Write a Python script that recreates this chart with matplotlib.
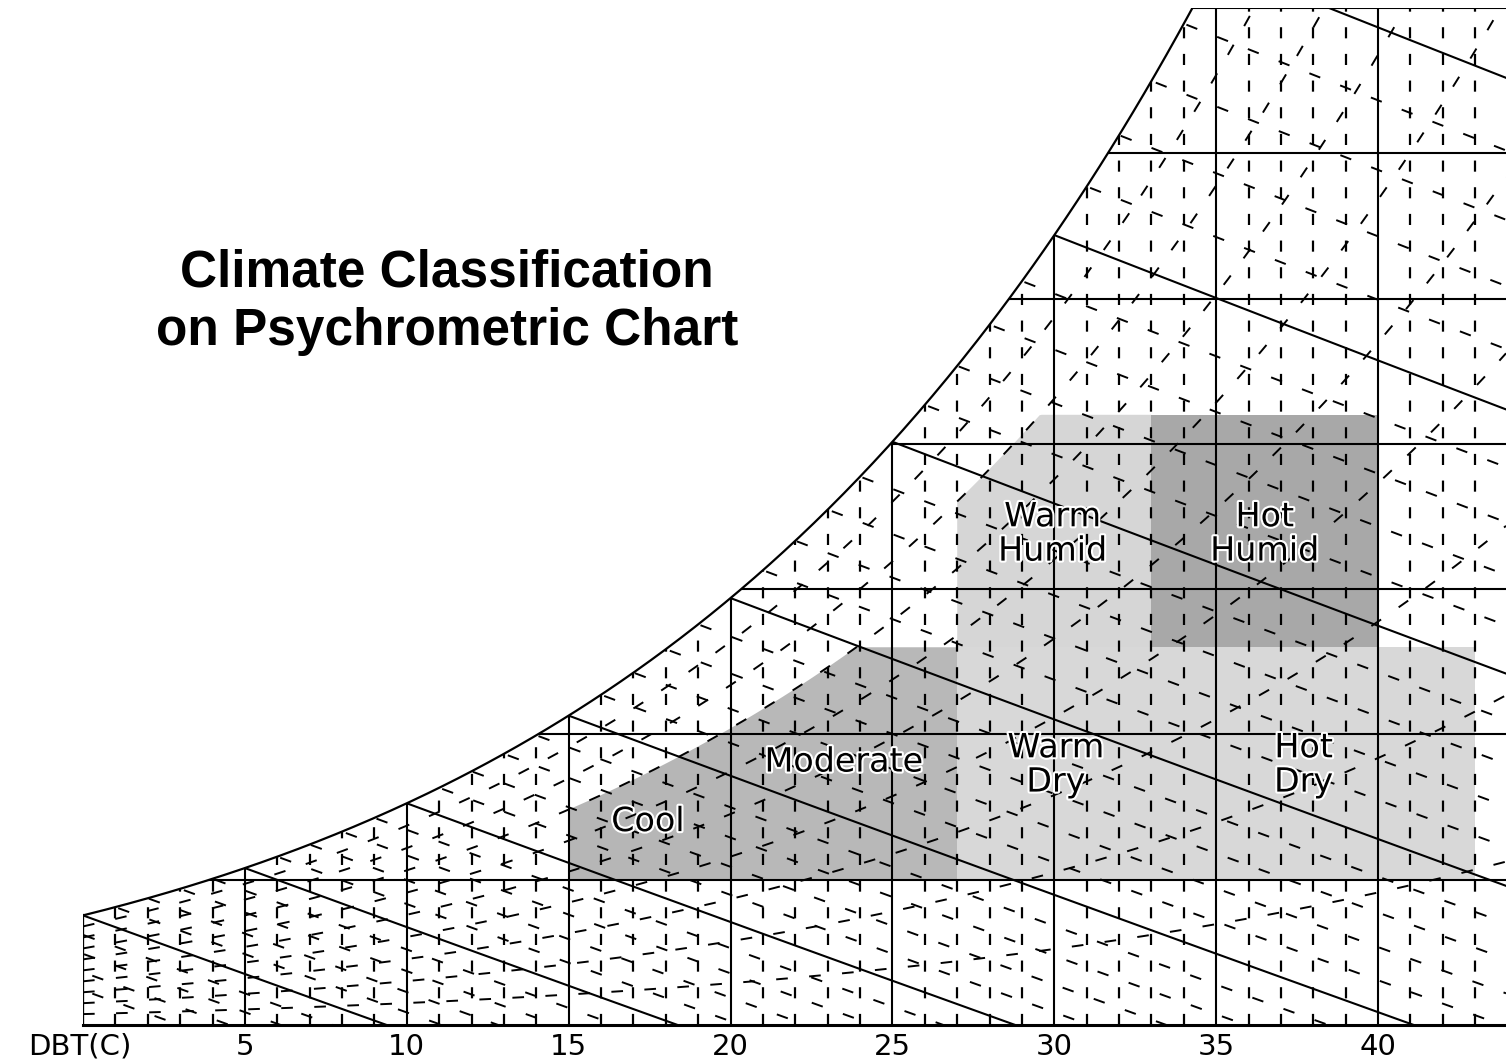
import numpy as np
import matplotlib
matplotlib.use("Agg")
import matplotlib.pyplot as plt
import matplotlib.patheffects as pe
from matplotlib.patches import Polygon

# chart frame (dry bulb in C, humidity ratio in g/kg)
t_max = 43.95
w_max = 35.0
pressure = 101.325

tick_temps = [5, 10, 15, 20, 25, 30, 35, 40]
tick_labels = ["5", "10", "15", "20", "25", "30", "35", "40"]
solid_temps = [0, 5, 10, 15, 20, 25, 30, 35, 40]
dashed_temps = [1, 2, 3, 4, 6, 7, 8, 9, 11, 12, 13, 14, 16, 17, 18, 19, 21, 22, 23, 24,
                26, 27, 28, 29, 31, 32, 33, 34, 36, 37, 38, 39, 41, 42, 43]
solid_w = [5, 10, 15, 20, 25, 30, 35]
wet_bulb_solid = [0, 5, 10, 15, 20, 25, 30, 35]
wet_bulb_dashed = [-9, -8, -7, -6, -4, -3, -2, -1, 1, 2, 3, 4, 6, 7, 8, 9, 11, 12, 13, 14,
                   16, 17, 18, 19, 21, 22, 23, 24, 26, 27, 28, 29, 31, 32, 33, 34, 36]
rh_levels = [10, 20, 30, 40, 50, 60, 70, 80, 90]

# climate zones
zone_names = ["Cool", "Moderate", "Warm\nHumid", "Hot\nHumid", "Warm\nDry", "Hot\nDry"]
zone_t_lo = [15, 20, 27, 33, 27, 33]
zone_t_hi = [20, 27, 33, 40, 33, 43]
zone_w_lo = [5, 5, 13, 13, 5, 5]
zone_w_hi = [13, 13, 21, 21, 13, 13]
zone_rh_cap = [70, 70, 80, None, None, None]
zone_colors = ["#b6b6b6", "#b8b8b8", "#d6d6d6", "#a8a8a8", "#d8d8d8", "#d8d8d8"]
zone_label_t = [17.45, 23.5, 29.95, 36.5, 30.05, 37.7]
zone_label_w = [7.0, 9.05, 16.9, 16.9, 8.95, 8.95]


def p_ws(t):
    return 0.61078 * np.exp(17.27 * t / (t + 237.3))


def w_rh(t, rh):
    p = rh / 100.0 * p_ws(t)
    return 622.0 * p / (pressure - p)


def w_wb(t, twb):
    ws = w_rh(twb, 100) / 1000.0
    return 1000.0 * ((2501 - 2.326 * twb) * ws - 1.006 * (t - twb)) / (2501 + 1.86 * t - 4.186 * twb)


fig = plt.figure(figsize=(15.06, 10.63), dpi=100)
ax = fig.add_axes([83 / 1506, 38 / 1063, 1423 / 1506, 1017 / 1063])
ax.set_xlim(0, t_max)
ax.set_ylim(0, w_max)
ax.axis("off")

t_fine = np.linspace(0, 40, 2000)
w_sat = w_rh(t_fine, 100)
t35 = np.interp(w_max, w_sat, t_fine)
t_sat = np.linspace(0, t35, 300)

clip = Polygon([(0, 0)] + list(zip(t_sat, w_rh(t_sat, 100))) + [(t_max + 1, w_max), (t_max + 1, 0)],
               closed=True, transform=ax.transData)

# shaded zones
for i in range(len(zone_names)):
    ts = np.linspace(zone_t_lo[i], zone_t_hi[i], 100)
    top = np.full_like(ts, zone_w_hi[i])
    if zone_rh_cap[i] is not None:
        top = np.minimum(top, w_rh(ts, zone_rh_cap[i]))
    pts = [(zone_t_lo[i], zone_w_lo[i]), (zone_t_hi[i], zone_w_lo[i])] + list(zip(ts[::-1], top[::-1]))
    ax.add_patch(Polygon(pts, closed=True, facecolor=zone_colors[i], edgecolor="none", zorder=1))

dash = dict(color="black", lw=1.6, linestyle=(0, (5, 7)), zorder=2)
solid = dict(color="black", lw=1.5, zorder=3)

for t in dashed_temps:
    ln, = ax.plot([t, t], [0, w_max], **dash)
    ln.set_clip_path(clip)
for t in solid_temps:
    ln, = ax.plot([t, t], [0, w_max], **solid)
    ln.set_clip_path(clip)
for w in solid_w:
    ln, = ax.plot([0, t_max], [w, w], **solid)
    ln.set_clip_path(clip)

t_line = np.linspace(-10, t_max, 400)
for twb in wet_bulb_dashed:
    ts = t_line[t_line >= twb]
    ln, = ax.plot(ts, w_wb(ts, twb), color="black", lw=1.4, linestyle=(0, (6, 11)), zorder=2)
    ln.set_clip_path(clip)
for twb in wet_bulb_solid:
    ts = t_line[t_line >= twb]
    ln, = ax.plot(ts, w_wb(ts, twb), **solid)
    ln.set_clip_path(clip)
for rh in rh_levels:
    ts = np.linspace(0, t_max, 400)
    ln, = ax.plot(ts, w_rh(ts, rh), color="black", lw=1.4, linestyle=(0, (6, 11)), zorder=2)
    ln.set_clip_path(clip)

# frame: saturation curve, left edge, base
ax.plot(t_sat, w_rh(t_sat, 100), color="black", lw=1.6, zorder=4)
ax.plot([0, 0], [0, w_rh(0, 100)], color="black", lw=1.6, zorder=4)
ax.plot([0, t_max], [0, 0], color="black", lw=2.2, zorder=4, clip_on=False)

halo = [pe.withStroke(linewidth=3, foreground="white")]
for i in range(len(zone_names)):
    ax.text(zone_label_t[i], zone_label_w[i], zone_names[i], ha="center", va="center",
            fontsize=24, family="DejaVu Sans", linespacing=1.05, zorder=6, path_effects=halo)

for t, lab in zip(tick_temps, tick_labels):
    ax.text(t, -1.03, lab, ha="center", va="baseline", fontsize=21, family="DejaVu Sans", clip_on=False)
ax.text(-0.1, -1.03, "DBT(C)", ha="center", va="baseline", fontsize=21, family="DejaVu Sans", clip_on=False)

fig.text(447 / 1506, 1 - 302 / 1063, "Climate Classification\non Psychrometric Chart",
         ha="center", va="center", fontsize=37, fontweight="bold", family="Liberation Sans",
         linespacing=1.25)

fig.savefig("out.png", dpi=100, facecolor="white")
